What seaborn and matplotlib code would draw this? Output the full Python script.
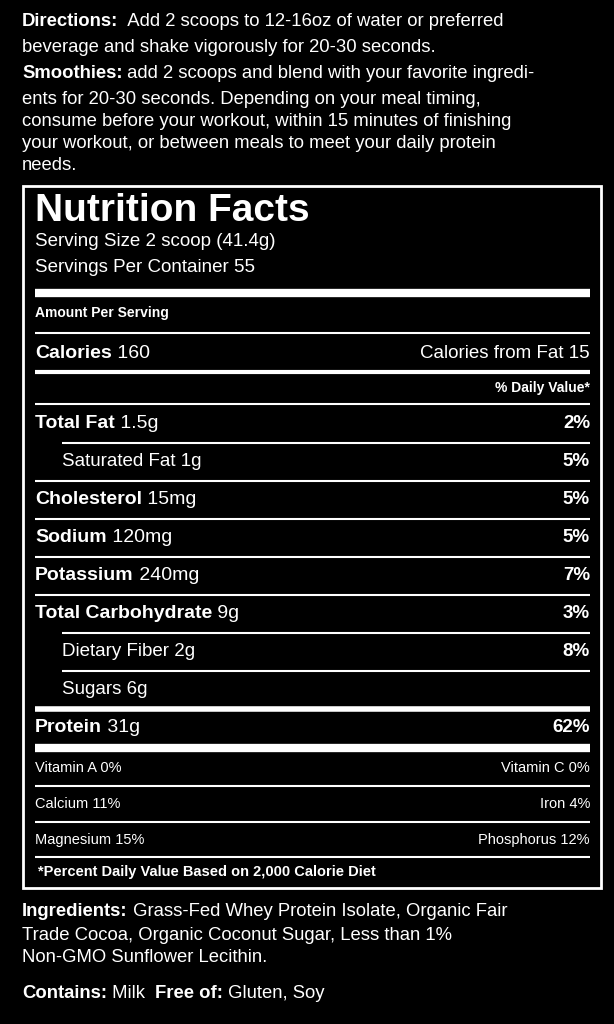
import matplotlib
matplotlib.use("Agg")
import matplotlib.pyplot as plt
import seaborn as sns

sns.set_theme(style="white")
plt.rcParams['font.family'] = ['Liberation Sans', 'DejaVu Sans']

directions = [
    ("Directions:", "  Add 2 scoops to 12-16oz of water or preferred"),
    ("", "beverage and shake vigorously for 20-30 seconds."),
    ("Smoothies:", " add 2 scoops and blend with your favorite ingredi-"),
    ("", "ents for 20-30 seconds. Depending on your meal timing,"),
    ("", "consume before your workout, within 15 minutes of finishing"),
    ("", "your workout, or between meals to meet your daily protein"),
    ("", "needs."),
]
nutrients = ["Total Fat", "Saturated Fat", "Cholesterol", "Sodium", "Potassium",
             "Total Carbohydrate", "Dietary Fiber", "Sugars", "Protein"]
amounts = ["1.5g", "1g", "15mg", "120mg", "240mg", "9g", "2g", "6g", "31g"]
daily = ["2%", "5%", "5%", "5%", "7%", "3%", "8%", "", "62%"]
sub = [False, True, False, False, False, False, True, True, False]
vit_left = ["Vitamin A 0%", "Calcium 11%", "Magnesium 15%"]
vit_right = ["Vitamin C 0%", "Iron 4%", "Phosphorus 12%"]
ingredients = [
    ("Ingredients:", " Grass-Fed Whey Protein Isolate, Organic Fair"),
    ("", "Trade Cocoa, Organic Coconut Sugar, Less than 1%"),
    ("", "Non-GMO Sunflower Lecithin."),
]

fig = plt.figure(figsize=(6.14, 10.24), dpi=100, facecolor="black")
ax = fig.add_axes([0, 0, 1, 1])
ax.set_facecolor("black")
ax.set_xlim(0, 614); ax.set_ylim(1024, 0); ax.axis("off")
W = "white"
FS = 13.3

def bold_pair(x, y, b, r, fs, bw="heavy", rw="normal"):
    t = ax.text(x, y, b, color=W, fontsize=fs, fontweight=bw, va="center", ha="left")
    if r:
        ax.annotate(r, xycoords=t, xy=(1, 0.5), va="center", ha="left",
                    color=W, fontsize=fs, fontweight=rw)

ys = [22, 48, 74, 99, 121, 143, 166]
for (b, r), y in zip(directions, ys):
    if b:
        bold_pair(22, y, b, r, FS)
    else:
        ax.text(22, y, r, color=W, fontsize=FS, va="center")

ax.add_patch(plt.Rectangle((23, 186), 578, 702, fill=False, ec=W, lw=2))
L, R = 35, 590
ax.text(L, 211, "Nutrition Facts", color=W, fontsize=28, fontweight="bold", va="center")
ax.text(L, 242, "Serving Size 2 scoop (41.4g)", color=W, fontsize=13.5, va="center")
ax.text(L, 268, "Servings Per Container 55", color=W, fontsize=13.5, va="center")
ax.hlines(293, L, R, color=W, lw=6)
ax.text(L, 313, "Amount Per Serving", color=W, fontsize=10, fontweight="bold", va="center")
ax.hlines(333, L, R, color=W, lw=1.5)
bold_pair(L, 354, "Calories", " 160", 14, bw="bold")
ax.text(R, 354, "Calories from Fat 15", color=W, fontsize=13.5, va="center", ha="right")
ax.hlines(372, L, R, color=W, lw=3)
ax.text(R, 388, "% Daily Value*", color=W, fontsize=10, fontweight="bold", va="center", ha="right")
ax.hlines(404, L, R, color=W, lw=1.5)

y = 424
for i, (n, a, d, s) in enumerate(zip(nutrients, amounts, daily, sub)):
    if n == "Protein":
        y = 728
    x = 62 if s else L
    if s:
        ax.text(x, y, f"{n} {a}", color=W, fontsize=13.5, va="center")
    else:
        bold_pair(x, y, n, " " + a, 14, bw="bold")
    if d:
        ax.text(R, y, d, color=W, fontsize=13.5, fontweight="bold", va="center", ha="right")
    if n == "Sugars":
        ax.hlines(709, L, R, color=W, lw=4)
    elif n == "Protein":
        ax.hlines(748, L, R, color=W, lw=6)
    else:
        nx = 62 if (i + 1 < len(sub) and sub[i + 1]) else L
        ax.hlines(y + 19, nx, R, color=W, lw=1.5)
    y += 38

for l, r, yy in zip(vit_left, vit_right, [768, 804, 840]):
    ax.text(L, yy, l, color=W, fontsize=10.5, va="center")
    ax.text(R, yy, r, color=W, fontsize=10.5, va="center", ha="right")
    if yy != 840:
        ax.hlines(yy + 18, L, R, color=W, lw=1.5)
ax.hlines(857, L, R, color=W, lw=1.5)
ax.text(38, 872, "*Percent Daily Value Based on 2,000 Calorie Diet", color=W, fontsize=10.5,
        fontweight="bold", va="center")

for (b, r), yy in zip(ingredients, [912, 935, 957]):
    if b:
        bold_pair(22, yy, b, r, FS)
    else:
        ax.text(22, yy, r, color=W, fontsize=FS, va="center")
t = ax.text(22, 993, "Contains:", color=W, fontsize=FS, fontweight="heavy", va="center")
t2 = ax.annotate(" Milk  ", xycoords=t, xy=(1, 0.5), va="center", color=W, fontsize=FS)
t3 = ax.annotate("Free of:", xycoords=t2, xy=(1, 0.5), va="center", color=W, fontsize=FS, fontweight="heavy")
ax.annotate(" Gluten, Soy", xycoords=t3, xy=(1, 0.5), va="center", color=W, fontsize=FS)

fig.savefig("out.png", dpi=100, facecolor="black")
